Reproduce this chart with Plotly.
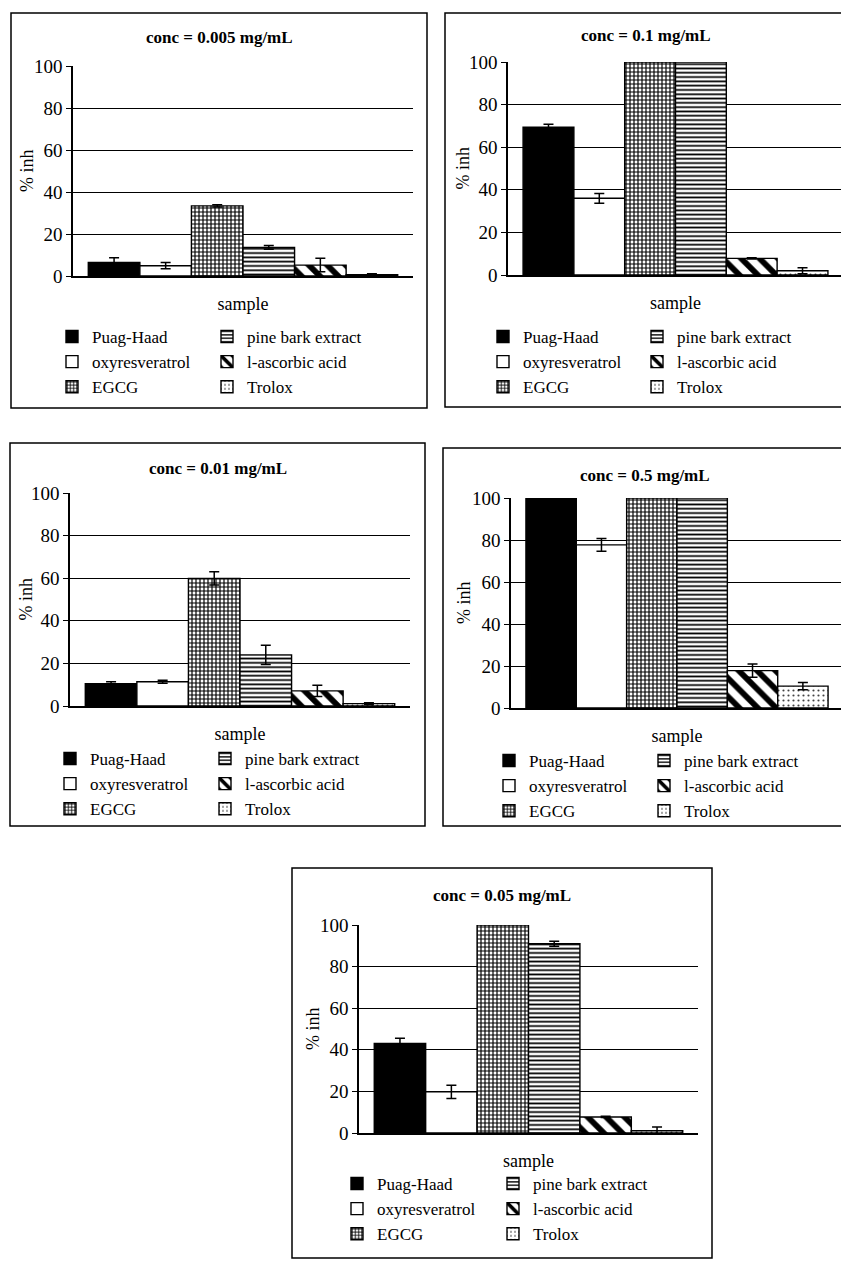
import plotly.graph_objects as go

W, H = 849, 1261
OFF = 8  # page body margin in the browser

samples = ["Puag-Haad", "oxyresveratrol", "EGCG", "pine bark extract", "l-ascorbic acid", "Trolox"]
titles = ["conc = 0.005 mg/mL", "conc = 0.1 mg/mL", "conc = 0.01 mg/mL",
          "conc = 0.5 mg/mL", "conc = 0.05 mg/mL"]

inh_0005 = [6.5, 4.9, 33.4, 13.6, 5.2, 0.6]
err_0005 = [2.2, 1.5, 0.5, 0.9, 3.2, 0.5]
inh_01 = [69.4, 36.0, 100, 100, 7.8, 2.0]
err_01 = [1.4, 2.3, 0, 0, 0.3, 1.4]
inh_001 = [10.5, 11.4, 59.9, 24.0, 7.1, 1.1]
err_001 = [0.9, 0.7, 3.1, 4.5, 2.6, 0.4]
inh_05 = [100, 77.7, 100, 100, 17.8, 10.4]
err_05 = [0, 3.0, 0, 0, 3.2, 1.7]
inh_005 = [43.1, 19.8, 100, 91.0, 7.7, 1.1]
err_005 = [2.4, 3.2, 0, 1.2, 0.3, 1.8]

values = [inh_0005, inh_01, inh_001, inh_05, inh_005]
errors = [err_0005, err_01, err_001, err_05, err_005]

y_ticks = [0, 20, 40, 60, 80, 100]
x_label = "sample"
y_label = "% inh"

# styles per sample
fills = ["black", "white", "white", "white", "white", "white"]
patterns = [
    dict(shape=""),
    dict(shape=""),
    dict(shape="+", fgcolor="black", bgcolor="white", size=4, solidity=0.5, fgopacity=1),
    dict(shape="-", fgcolor="black", bgcolor="white", size=4.3, solidity=0.4, fgopacity=1),
    dict(shape="\\", fgcolor="black", bgcolor="white", size=13, solidity=0.45, fgopacity=1),
    dict(shape=".", fgcolor="#444444", bgcolor="white", size=5, solidity=0.15, fgopacity=1),
]

# layout per panel (reference pixels): plot area, frame box, title y, y-title x,
# legend text x (two columns) and first legend row centre
panels = [
    dict(px=(73, 413), py=(66, 276), box=(11, 13, 427, 408), ty=37, yt=27, leg=(92, 247, 337)),
    dict(px=(508, 843), py=(62, 275), box=(445, 13, 846, 407), ty=35, yt=462, leg=(523, 677, 337)),
    dict(px=(70, 410), py=(493, 706), box=(10, 443, 425, 826), ty=468, yt=25, leg=(90, 245, 759)),
    dict(px=(511, 843), py=(498, 708), box=(443, 448, 846, 826), ty=475, yt=464, leg=(529, 684, 761)),
    dict(px=(359, 698), py=(925, 1133), box=(292, 868, 712, 1258), ty=895, yt=313, leg=(377, 533, 1184)),
]


def fx(v):
    return (v - OFF) / W


def fy(v):
    return 1 - (v - OFF) / H


FONT = "Liberation Serif"
fig = go.Figure()
shapes, annotations = [], []
layout = {}

for p, pan in enumerate(panels):
    xa = "x" if p == 0 else f"x{p+1}"
    ya = "y" if p == 0 else f"y{p+1}"
    leg1 = "legend" if p == 0 else f"legend{2*p+1}"
    leg2 = f"legend{2*p+2}"
    for i, s in enumerate(samples):
        fig.add_trace(go.Bar(
            x=[x_label], y=[values[p][i]], name=s,
            xaxis=xa, yaxis=ya,
            legend=leg1 if i < 3 else leg2,
            marker=dict(color=fills[i], line=dict(color="black", width=1.4),
                        pattern=patterns[i]),
            error_y=dict(type="data", array=[errors[p][i]], visible=errors[p][i] > 0,
                         color="black", thickness=1.5, width=5),
        ))
    x0, x1 = pan["px"]
    y0, y1 = pan["py"]
    xkey = "xaxis" if p == 0 else f"xaxis{p+1}"
    ykey = "yaxis" if p == 0 else f"yaxis{p+1}"
    layout[xkey] = dict(
        domain=[fx(x0), fx(x1)], anchor=ya, showticklabels=False, ticks="",
        showline=True, linecolor="black", linewidth=1.5, showgrid=False,
        automargin=False,
        title=dict(text=x_label, font=dict(family=FONT, size=18, color="black"), standoff=21),
        fixedrange=True,
    )
    layout[ykey] = dict(
        domain=[fy(y1), fy(y0)], anchor=xa, range=[0, 100],
        tickvals=y_ticks, ticks="outside", ticklen=5, tickcolor="black", tickwidth=1.3,
        showline=True, linecolor="black", linewidth=1.5, automargin=False,
        showgrid=True, gridcolor="black", gridwidth=1.2, zeroline=False,
        tickfont=dict(family=FONT, size=19, color="black"),
        fixedrange=True,
    )
    # y-axis title
    annotations.append(dict(text=y_label, xref="paper", yref="paper",
                            x=fx(pan["yt"]), y=fy((y0 + y1) / 2), textangle=-90,
                            xanchor="center", yanchor="middle", showarrow=False,
                            font=dict(family=FONT, size=18, color="black")))
    bx0, by0, bx1, by1 = pan["box"]
    shapes.append(dict(type="rect", xref="paper", yref="paper",
                       x0=fx(bx0), x1=fx(bx1), y0=fy(by1), y1=fy(by0),
                       line=dict(color="black", width=1.5)))
    annotations.append(dict(text="<b>" + titles[p] + "</b>", xref="paper", yref="paper",
                            x=fx((bx0 + bx1) / 2), y=fy(pan["ty"]),
                            xanchor="center", yanchor="middle", showarrow=False,
                            font=dict(family=FONT, size=17, color="black")))
    tx1, tx2, row1 = pan["leg"]
    for key, tx in ((leg1, tx1), (leg2, tx2)):
        layout[key] = dict(x=fx(tx - 40), y=fy(row1 - 18), xanchor="left", yanchor="top",
                           bgcolor="rgba(0,0,0,0)", borderwidth=0, tracegroupgap=0,
                           font=dict(family=FONT, size=17, color="black"),
                           itemclick=False, itemdoubleclick=False)

fig.update_layout(
    width=W, height=H, margin=dict(l=0, r=0, t=0, b=0, autoexpand=False),
    paper_bgcolor="white", plot_bgcolor="white",
    barmode="group", bargap=0.09, bargroupgap=0,
    shapes=shapes, annotations=annotations, showlegend=True,
    font=dict(family=FONT, color="black"),
    **layout,
)

fig.write_html("out.html")
